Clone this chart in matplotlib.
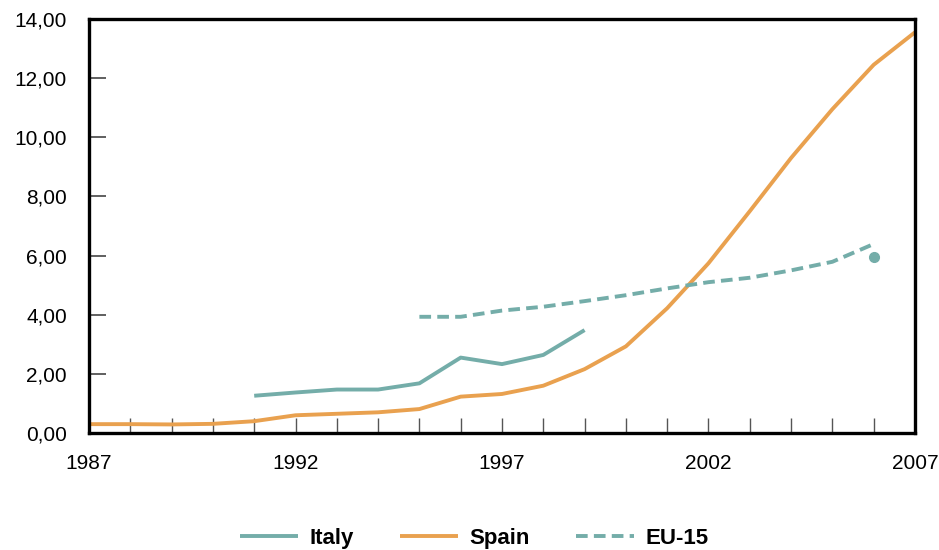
import numpy as np
import matplotlib.pyplot as plt
from matplotlib.ticker import FuncFormatter, MultipleLocator, FixedLocator

plt.rcParams['font.family'] = ['Liberation Sans', 'DejaVu Sans']

# data
years_spain = list(range(1987, 2008))
spain = [0.30, 0.30, 0.29, 0.31, 0.40, 0.60, 0.65, 0.70, 0.81, 1.23, 1.32,
         1.60, 2.16, 2.93, 4.22, 5.74, 7.50, 9.30, 10.95, 12.45, 13.55]

years_italy = list(range(1991, 2000))
italy = [1.26, 1.37, 1.47, 1.47, 1.68, 2.55, 2.33, 2.64, 3.48]

years_eu = list(range(1995, 2007))
eu15 = [3.93, 3.93, 4.14, 4.27, 4.46, 4.66, 4.89, 5.10, 5.25, 5.50, 5.79, 6.39]

dot_year = [2006]
dot_value = [5.96]

year_labels = [1987, 1992, 1997, 2002, 2007]

teal = '#74ADA9'
orange = '#E9A14F'

fig = plt.figure(figsize=(9.39, 5.5), dpi=100)
ax = fig.add_axes([0.0948, 0.2127, 0.8796, 0.7528])

ax.plot(years_italy, italy, color=teal, lw=2.8, label='Italy', solid_capstyle='butt')
ax.plot(years_spain, spain, color=orange, lw=2.8, label='Spain', solid_capstyle='butt')
ax.plot(years_eu, eu15, color=teal, lw=2.8, ls=(0, (3.0, 1.6)), label='EU-15')
ax.plot(dot_year, dot_value, 'o', color=teal, ms=7, label='_nolegend_')

ax.set_xlim(1987, 2007)
ax.set_ylim(0, 14)
ax.xaxis.set_major_locator(FixedLocator(year_labels))
ax.xaxis.set_minor_locator(MultipleLocator(1))
ax.yaxis.set_major_locator(MultipleLocator(2))
ax.yaxis.set_major_formatter(FuncFormatter(lambda v, p: ('%.2f' % v).replace('.', ',')))

ax.tick_params(axis='x', which='both', direction='in', length=11, width=1, color='#555555',
               labelsize=15, pad=15)
ax.tick_params(axis='y', which='major', direction='in', length=12, width=1.2, color='#444444',
               labelsize=15, pad=16)
for s in ax.spines.values():
    s.set_linewidth(2.4)
    s.set_color('black')

leg = fig.legend(loc='lower center', bbox_to_anchor=(0.505, -0.035), ncol=3, frameon=False,
                 handlelength=2.6, columnspacing=2.1, handletextpad=0.5,
                 prop={'weight': 'bold', 'size': 16})

fig.savefig('out.png', dpi=100)
